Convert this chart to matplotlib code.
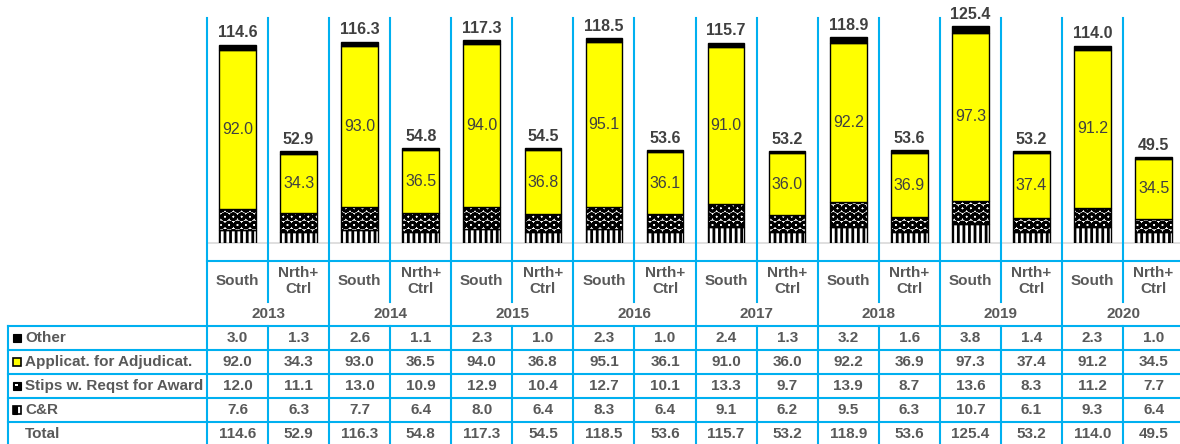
import matplotlib.pyplot as plt
from matplotlib.patches import Rectangle

# data
years = ["2013", "2014", "2015", "2016", "2017", "2018", "2019", "2020"]
regions = ["South", "Nrth+\nCtrl"]
row_labels = ["Other", "Applicat. for Adjudicat.", "Stips w. Reqst for Award", "C&R", "Total"]

other_s = [3.0, 2.6, 2.3, 2.3, 2.4, 3.2, 3.8, 2.3]
other_n = [1.3, 1.1, 1.0, 1.0, 1.3, 1.6, 1.4, 1.0]
app_s = [92.0, 93.0, 94.0, 95.1, 91.0, 92.2, 97.3, 91.2]
app_n = [34.3, 36.5, 36.8, 36.1, 36.0, 36.9, 37.4, 34.5]
stip_s = [12.0, 13.0, 12.9, 12.7, 13.3, 13.9, 13.6, 11.2]
stip_n = [11.1, 10.9, 10.4, 10.1, 9.7, 8.7, 8.3, 7.7]
cr_s = [7.6, 7.7, 8.0, 8.3, 9.1, 9.5, 10.7, 9.3]
cr_n = [6.3, 6.4, 6.4, 6.4, 6.2, 6.3, 6.1, 6.4]
total_s = [114.6, 116.3, 117.3, 118.5, 115.7, 118.9, 125.4, 114.0]
total_n = [52.9, 54.8, 54.5, 53.6, 53.2, 53.6, 53.2, 49.5]


def interleave(a, b):
    out = []
    for x, y in zip(a, b):
        out += [x, y]
    return out


other = interleave(other_s, other_n)
app = interleave(app_s, app_n)
stip = interleave(stip_s, stip_n)
cr = interleave(cr_s, cr_n)
total = interleave(total_s, total_n)
n = len(total)

plt.rcParams["font.family"] = ["Liberation Sans", "DejaVu Sans"]
plt.rcParams["hatch.linewidth"] = 2.0

W, H = 1180, 444
fig = plt.figure(figsize=(W / 100, H / 100), dpi=100)

# overlay axes in pixel coords for the grid / table
ov = fig.add_axes([0, 0, 1, 1], zorder=0)
ov.set_xlim(0, W)
ov.set_ylim(H, 0)
ov.axis("off")

x0, cw = 207, 61.07
top, base = 18, 243
blue = "#00B0F0"
grey = "#595959"
y_cat, y_year, y_rows = 261, 302, [326, 350, 374, 398, 422]

# bar axes
ax = fig.add_axes([x0 / W, (H - base) / H, n * cw / W, (base - top) / H], zorder=2)
ax.patch.set_alpha(0)
ax.set_xlim(-0.5, n - 0.5)
ax.set_ylim(0, 130)
ax.axis("off")

xs = list(range(n))
bw = 0.6
b1 = [0] * n
b2 = [c for c in cr]
b3 = [c + s for c, s in zip(cr, stip)]
b4 = [c + s + a for c, s, a in zip(cr, stip, app)]
ax.bar(xs, cr, bw, bottom=b1, color="white", edgecolor="black", hatch="|||", lw=1)
ax.bar(xs, stip, bw, bottom=b2, color="white", edgecolor="black", hatch="OO", lw=1)
ax.bar(xs, app, bw, bottom=b3, color="#FFFF00", edgecolor="black", lw=1)
ax.bar(xs, other, bw, bottom=b4, color="black", edgecolor="black", lw=1)

for i in range(n):
    ax.text(i, total[i] + 2.5, f"{total[i]:.1f}", ha="center", va="bottom",
            fontsize=11.5, fontweight="bold", color="#404040")
    ax.text(i, b3[i] + app[i] / 2, f"{app[i]:.1f}", ha="center", va="center",
            fontsize=11.5, color="#404040")

# baseline
ov.plot([x0, W], [base, base], color="#D9D9D9", lw=1.2)

# vertical grid lines
for k in range(n + 1):
    x = x0 + k * cw
    if k % 2 == 0:
        ov.plot([x, x], [top, H], color=blue, lw=1.5)
    else:
        ov.plot([x, x], [top, y_year], color=blue, lw=1.5)
        ov.plot([x, x], [y_rows[0], H], color=blue, lw=1.5)

ov.plot([x0, W], [y_cat, y_cat], color=blue, lw=1.5)
for y in y_rows:
    ov.plot([8, W], [y, y], color=blue, lw=1.5)
ov.plot([8, 8], [y_rows[0], H], color=blue, lw=1.5)

# headers
for i in range(n):
    xc = x0 + cw * (i + 0.5)
    ov.text(xc, 281, regions[i % 2], ha="center", va="center", fontsize=11,
            fontweight="bold", color=grey, linespacing=1.15)
for j, yr in enumerate(years):
    xc = x0 + cw * (2 * j + 1)
    ov.text(xc, 314, yr, ha="center", va="center", fontsize=11,
            fontweight="bold", color=grey)

# table body
rows = [other, app, stip, cr, total]
for r, vals in enumerate(rows):
    yc = y_rows[r] + 11.5
    ov.text(25, yc, row_labels[r], ha="left", va="center", fontsize=11,
            fontweight="bold", color=grey)
    for i, v in enumerate(vals):
        ov.text(x0 + cw * (i + 0.5), yc, f"{v:.1f}", ha="center", va="center",
                fontsize=11, fontweight="bold", color=grey)

# legend keys
ky = [y_rows[r] + 7.5 for r in range(4)]
ov.add_patch(Rectangle((13, ky[0]), 8, 8, facecolor="black", edgecolor="black", lw=0.8))
ov.add_patch(Rectangle((13, ky[1]), 8, 8, facecolor="#FFFF00", edgecolor="black", lw=1.2))
ov.add_patch(Rectangle((13, ky[2]), 8, 8, facecolor="black", edgecolor="black", lw=0.8))
ov.add_patch(Rectangle((15, ky[2] + 2), 3, 2, facecolor="white", edgecolor="none"))
ov.add_patch(Rectangle((13, ky[3]), 8, 8, facecolor="white", edgecolor="black", lw=1.2))
ov.add_patch(Rectangle((13, ky[3]), 3.5, 8, facecolor="black", edgecolor="black", lw=0.8))

fig.savefig("out.png", dpi=100)
